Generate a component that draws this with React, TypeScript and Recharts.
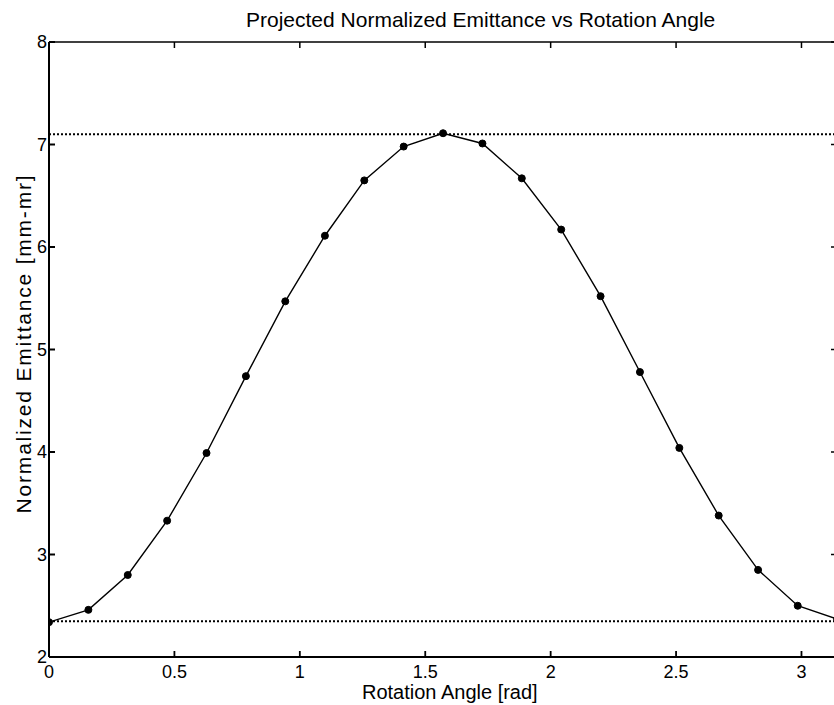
import React from 'react';
import { LineChart, Line, XAxis, YAxis, ReferenceLine } from 'recharts';

// rotation angle [rad], 20 steps over 0..pi
const angles = [
  0, 0.157, 0.314, 0.471, 0.628, 0.785, 0.942, 1.1, 1.257, 1.414, 1.571,
  1.728, 1.885, 2.042, 2.199, 2.356, 2.513, 2.67, 2.827, 2.985, 3.142,
];
// projected normalized emittance [mm-mr]
const emittance = [
  2.34, 2.46, 2.8, 3.33, 3.99, 4.74, 5.47, 6.11, 6.65, 6.98, 7.11,
  7.01, 6.67, 6.17, 5.52, 4.78, 4.04, 3.38, 2.85, 2.5, 2.37,
];
const xTicks = [0, 0.5, 1, 1.5, 2, 2.5, 3];
const yTicks = [2, 3, 4, 5, 6, 7, 8];
const maxEmittance = 7.1;
const minEmittance = 2.35;

const data = angles.map((a, i) => ({ angle: a, value: emittance[i] }));

const font = '"Liberation Sans", Arial, Helvetica, sans-serif';
const tickStyle = { fill: '#000', fontSize: 18 };

export default function App() {
  return (
    <div
      style={{
        position: 'fixed',
        left: 0,
        top: 0,
        width: 834,
        height: 705,
        overflow: 'hidden',
        background: '#fff',
        fontFamily: font,
        color: '#000',
      }}
    >
      <div
        style={{
          position: 'absolute',
          left: 246,
          top: 9,
          fontSize: 21,
          lineHeight: '21px',
          whiteSpace: 'nowrap',
        }}
      >
        Projected Normalized Emittance vs Rotation Angle
      </div>
      <div
        style={{
          position: 'absolute',
          left: 362,
          top: 682,
          fontSize: 20,
          lineHeight: '20px',
          whiteSpace: 'nowrap',
        }}
      >
        Rotation Angle [rad]
      </div>
      <div
        style={{
          position: 'absolute',
          left: 22.5 - 200,
          top: 343 - 10.5,
          width: 400,
          textAlign: 'center',
          fontSize: 21,
          lineHeight: '21px',
          letterSpacing: 1.8,
          whiteSpace: 'nowrap',
          transform: 'rotate(-90deg)',
        }}
      >
        Normalized Emittance [mm-mr]
      </div>

      <LineChart
        width={845}
        height={705}
        data={data}
        margin={{ top: 0, right: 0, bottom: 0, left: 0 }}
      >
        <XAxis
          xAxisId="bottom"
          dataKey="angle"
          type="number"
          domain={[0, 3.1416]}
          ticks={xTicks}
          allowDataOverflow
          height={48}
          tickSize={-6}
          tickMargin={14}
          tick={tickStyle}
          stroke="#000"
          strokeWidth={1.8}
        />
        <XAxis
          xAxisId="top"
          orientation="top"
          dataKey="angle"
          type="number"
          domain={[0, 3.1416]}
          ticks={xTicks}
          allowDataOverflow
          height={42}
          tickSize={-6}
          tickFormatter={() => ''}
          stroke="#000"
          strokeWidth={1.5}
        />
        <YAxis
          yAxisId="left"
          type="number"
          domain={[2, 8]}
          ticks={yTicks}
          allowDataOverflow
          width={49}
          tickSize={-6}
          tickMargin={8}
          tick={tickStyle}
          stroke="#000"
          strokeWidth={2}
        />
        <YAxis
          yAxisId="right"
          orientation="right"
          type="number"
          domain={[2, 8]}
          ticks={yTicks}
          allowDataOverflow
          width={8}
          tickSize={-6}
          tickFormatter={() => ''}
          stroke="#000"
          strokeWidth={1.5}
        />
        <ReferenceLine
          xAxisId="bottom"
          yAxisId="left"
          y={maxEmittance}
          stroke="#000"
          strokeWidth={2}
          strokeDasharray="2 2"
        />
        <ReferenceLine
          xAxisId="bottom"
          yAxisId="left"
          y={minEmittance}
          stroke="#000"
          strokeWidth={2}
          strokeDasharray="2 2"
        />
        <Line
          xAxisId="bottom"
          yAxisId="left"
          dataKey="value"
          type="linear"
          stroke="#000"
          strokeWidth={1.4}
          dot={{ r: 3.5, fill: '#000', stroke: '#000', strokeWidth: 1 }}
          isAnimationActive={false}
        />
      </LineChart>
    </div>
  );
}
